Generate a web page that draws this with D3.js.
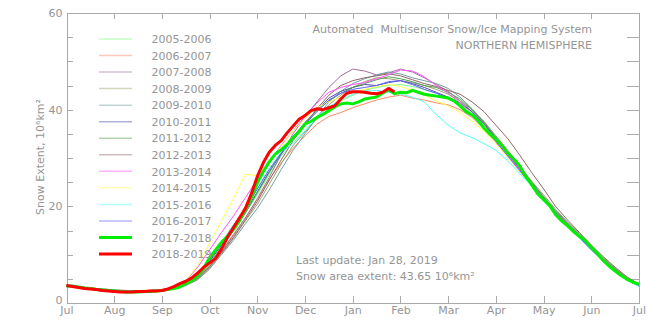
<!DOCTYPE html>
<html>
<head>
<meta charset="utf-8">
<script src="https://cdn.jsdelivr.net/npm/d3@7"></script>
<style>
  body { margin: 0; background: #fff; }
  svg text { font-family: "DejaVu Sans", sans-serif; font-size: 11px; fill: #959595; }
  .axis path, .axis line { stroke: #aaa; shape-rendering: crispEdges; }
</style>
</head>
<body>
<div id="chart"></div>
<script>
// month ticks, July to July
const monthLabels = ["Jul", "Aug", "Sep", "Oct", "Nov", "Dec", "Jan", "Feb", "Mar", "Apr", "May", "Jun", "Jul"];
const yTicks = [0, 5, 10, 15, 20, 25, 30, 35, 40, 45, 50, 55, 60];
const seasons = ["2005-2006", "2006-2007", "2007-2008", "2008-2009", "2009-2010", "2010-2011",
  "2011-2012", "2012-2013", "2013-2014", "2014-2015", "2015-2016", "2016-2017", "2017-2018", "2018-2019"];

// snow extent (10^6 km^2), one value per quarter month from Jul 1
const snow0506 = [3.5,3.2,2.9,2.7,2.5,2.4,2.4,2.5,2.6,3.0,3.8,5.2,7.8,11.4,15.0,18.6,22.4,26.6,30.4,33.2,35.6,38.0,40.2,41.8,43.0,44.0,44.6,45.0,45.2,44.8,44.2,43.4,42.6,41.2,39.4,36.8,33.8,30.6,27.6,24.6,21.6,18.8,16.2,13.8,11.2,8.8,6.8,5.0,3.6];
const snow0607 = [3.7,3.4,3.1,2.9,2.7,2.5,2.4,2.5,2.7,3.2,4.0,5.4,7.6,10.8,14.2,17.6,21.4,25.6,29.0,32.0,34.6,37.0,38.6,39.4,40.4,41.2,42.0,42.6,43.0,42.4,42.0,41.4,41.0,40.0,38.4,36.0,33.2,30.2,27.2,24.2,21.2,18.6,16.4,14.0,11.6,9.2,7.2,5.2,3.8];
const snow0708 = [3.6,3.3,3.0,2.8,2.6,2.5,2.5,2.6,2.7,3.1,3.8,5.0,7.4,10.6,14.0,17.6,21.6,26.0,30.8,35.0,38.6,41.6,44.6,47.0,48.4,48.0,47.2,47.6,48.4,47.8,46.6,45.2,43.8,41.8,39.6,37.0,34.0,31.0,28.0,24.8,21.8,18.8,16.2,13.6,11.0,8.6,6.6,4.8,3.5];
const snow0809 = [3.5,3.2,3.0,2.8,2.6,2.5,2.4,2.4,2.5,2.9,3.6,4.8,7.0,10.2,13.4,17.0,20.4,24.6,28.8,32.6,35.4,38.2,41.0,43.0,44.6,45.8,46.6,46.4,46.0,45.6,45.0,44.2,43.2,41.8,40.0,37.6,34.6,31.6,28.4,25.2,22.4,19.4,16.8,14.4,11.8,9.4,7.2,5.2,3.8];
const snow0910 = [3.6,3.3,3.0,2.8,2.6,2.5,2.5,2.5,2.6,3.0,3.7,4.9,7.2,10.0,13.0,16.4,19.6,23.4,27.6,31.6,35.0,38.4,41.6,43.8,45.4,46.4,47.2,47.8,47.4,46.6,46.0,45.4,44.4,42.6,40.2,37.4,34.4,31.2,28.2,25.0,22.0,19.2,16.6,14.2,11.6,9.2,7.0,5.0,3.7];
const snow1011 = [3.6,3.3,3.0,2.8,2.6,2.4,2.4,2.5,2.6,3.1,4.0,5.6,8.6,12.0,15.6,19.0,23.0,27.2,30.8,34.0,37.2,40.0,42.4,43.8,44.6,45.2,45.0,45.6,46.0,45.4,44.6,43.6,42.6,41.4,39.6,37.2,34.0,30.8,27.8,24.6,21.6,18.8,16.2,13.8,11.4,9.0,6.8,4.9,3.6];
const snow1112 = [3.5,3.2,2.9,2.7,2.5,2.4,2.3,2.4,2.5,2.9,3.8,5.4,8.2,11.6,15.0,18.6,22.8,27.0,31.0,34.4,37.4,39.8,41.8,43.4,44.6,45.4,46.2,46.8,46.4,45.8,45.0,44.6,43.6,42.2,40.0,37.4,34.2,31.2,28.0,25.0,22.0,19.0,16.4,14.0,11.4,9.0,7.0,5.0,3.7];
const snow1213 = [3.7,3.4,3.1,2.9,2.7,2.6,2.5,2.6,2.7,3.1,3.9,5.2,7.6,10.4,13.6,17.2,21.0,25.4,29.6,33.6,37.0,40.2,43.0,45.0,46.0,46.6,47.0,47.4,47.0,46.2,45.4,44.8,44.0,43.2,41.6,39.6,36.8,34.0,30.6,27.0,23.6,20.0,17.2,14.6,12.0,9.6,7.4,5.4,3.9];
const snow1314 = [3.6,3.3,3.0,2.8,2.6,2.5,2.4,2.5,2.7,3.4,4.6,7.4,11.0,14.6,18.0,21.8,25.6,29.2,32.6,35.6,38.6,41.4,43.6,44.6,45.2,45.6,46.4,47.2,48.2,48.0,46.8,45.0,43.4,41.4,39.0,36.4,33.6,30.6,27.6,24.6,21.6,18.8,16.2,13.8,11.2,8.8,6.8,4.9,3.6];
const snow1415 = [3.6,3.3,3.0,2.8,2.6,2.5,2.4,2.5,2.7,3.3,4.6,7.8,12.4,17.0,21.6,26.6,26.4,29.0,32.4,35.6,38.2,40.4,41.6,42.6,43.6,44.2,44.8,45.2,44.8,44.0,43.0,41.8,40.8,39.4,37.6,35.6,33.0,30.2,27.2,24.2,21.2,18.4,15.8,13.4,11.0,8.6,6.6,4.8,3.5];
const snow1516 = [3.7,3.4,3.1,2.9,2.7,2.5,2.5,2.6,2.7,3.2,4.2,6.0,9.0,12.6,16.2,19.6,23.6,27.8,31.2,33.0,35.6,38.6,40.6,42.0,43.2,43.8,44.0,43.6,43.2,42.6,41.6,39.0,36.8,35.2,34.2,33.0,31.6,29.4,26.8,24.2,21.2,18.4,15.8,13.4,11.0,8.6,6.6,4.8,3.4];
const snow1617 = [3.6,3.3,3.0,2.8,2.6,2.5,2.4,2.5,2.6,3.0,3.9,5.6,8.8,12.4,16.0,19.6,23.6,27.6,31.0,34.2,37.0,39.6,42.0,43.4,44.2,44.6,45.0,45.8,46.0,45.2,44.2,43.4,42.4,40.8,38.8,36.4,33.4,30.4,27.4,24.4,21.4,18.6,16.0,13.6,11.0,8.8,6.8,4.9,3.6];

// the last two seasons, one value per eighth of a month
const snow1718 = [3.5,3.5,3.3,3.1,3.0,2.8,2.7,2.6,
  2.5,2.4,2.3,2.3,2.3,2.4,2.4,2.5,
  2.6,2.8,3.0,3.3,4.0,4.6,5.6,7.2,
  9.4,11.0,12.6,13.8,15.2,17.0,19.5,21.8,
  24.8,27.2,29.2,30.8,31.7,32.8,34.2,35.4,
  37.0,37.6,38.4,39.0,39.8,40.6,41.2,41.4,
  41.2,41.6,42.2,42.4,42.6,43.4,44.1,43.3,
  43.6,43.5,44.0,43.6,43.2,43.0,42.8,42.6,
  42.4,41.8,40.8,39.6,38.9,37.8,36.2,35.0,
  33.9,32.6,31.0,29.8,28.4,26.2,24.5,22.6,
  21.4,20.2,18.3,17.0,16.0,14.8,13.8,12.9,
  11.5,10.3,8.8,7.6,6.6,5.7,4.9,4.3,
  3.9];
const snow1819 = [3.6,3.4,3.2,3.0,2.9,2.8,2.6,2.5,
  2.4,2.3,2.3,2.3,2.4,2.4,2.5,2.5,
  2.6,2.9,3.4,4.0,4.5,5.2,6.2,7.4,
  8.3,9.2,11.2,13.6,15.6,17.6,19.6,22.6,
  26.2,29.0,31.2,32.6,33.6,35.2,36.6,38.0,
  38.8,39.8,40.2,40.0,40.4,40.8,42.2,43.4,
  43.7,43.7,43.6,43.4,43.3,43.6,44.4,43.65];

const thinSeries = [snow0506, snow0607, snow0708, snow0809, snow0910, snow1011,
  snow1112, snow1213, snow1314, snow1415, snow1516, snow1617];

const colors = ["#7fff7f", "#ff8866", "#a070a0", "#a0a070", "#70a0a0", "#5050b0",
  "#50a050", "#906868", "#ff55ff", "#ffff50", "#50ffff", "#6060ff", "#00ee00", "#ff0000"];

const W = 658, H = 330;
const plotLeft = 66.5, plotRight = 639, plotTop = 13, plotBottom = 303;

const svg = d3.select("#chart").append("svg")
  .attr("width", W).attr("height", H);

const x = d3.scaleLinear().domain([0, 12]).range([plotLeft, plotRight]);
const y = d3.scaleLinear().domain([0, 60]).range([plotBottom, plotTop]);

// frame with inward ticks on all four sides
svg.append("g").attr("class", "axis")
  .attr("transform", `translate(0,${plotBottom})`)
  .call(d3.axisBottom(x).tickValues(d3.range(13)).tickSize(-7).tickSizeOuter(0)
    .tickPadding(3).tickFormat(i => monthLabels[i]))
  .call(g => g.selectAll("text").attr("fill", null));

svg.append("g").attr("class", "axis")
  .attr("transform", `translate(0,${plotTop})`)
  .call(d3.axisTop(x).tickValues(d3.range(13)).tickSize(-6).tickSizeOuter(0).tickFormat(""));

svg.append("g").attr("class", "axis")
  .attr("transform", `translate(${plotLeft},0)`)
  .call(d3.axisLeft(y).tickValues(yTicks).tickSize(-6).tickSizeOuter(0)
    .tickPadding(4).tickFormat(d => d % 20 === 0 ? d : ""))
  .call(g => g.selectAll("text").attr("fill", null)
    .attr("dy", d => d === 0 ? "0.0em" : "0.32em"));

svg.append("g").attr("class", "axis")
  .attr("transform", `translate(${plotRight},0)`)
  .call(d3.axisRight(y).tickValues(yTicks.slice(1, -1)).tickSize(-12).tickSizeOuter(0).tickFormat(""));

// y axis title
svg.append("text")
  .attr("transform", `translate(44,157) rotate(-90)`)
  .attr("text-anchor", "middle")
  .text("Snow Extent, 10⁶km²");

// season curves
const plot = svg.append("g");

function curve(values, step) {
  return d3.line()
    .x((d, i) => x(i * step))
    .y(d => y(d))(values);
}

thinSeries.forEach((vals, k) => {
  plot.append("path")
    .attr("d", curve(vals, 0.25))
    .attr("fill", "none")
    .attr("stroke", colors[k])
    .attr("stroke-width", 1);
});

plot.append("path")
  .attr("d", curve(snow1718, 0.125))
  .attr("fill", "none").attr("stroke", colors[12])
  .attr("stroke-width", 3).attr("stroke-linejoin", "round");

plot.append("path")
  .attr("d", curve(snow1819, 0.125))
  .attr("fill", "none").attr("stroke", colors[13])
  .attr("stroke-width", 3).attr("stroke-linejoin", "round");

// legend
const legend = svg.append("g");
seasons.forEach((s, k) => {
  const ly = 39 + k * 16.54;
  legend.append("line")
    .attr("x1", 99).attr("x2", 132).attr("y1", ly).attr("y2", ly)
    .attr("stroke", colors[k])
    .attr("stroke-opacity", k < 12 ? 0.45 : 1)
    .attr("stroke-width", k < 12 ? 1.5 : 3);
  legend.append("text")
    .attr("x", 151.5).attr("y", ly + 4.2)
    .text(s);
});

// titles and notes
svg.append("text").attr("x", 592).attr("y", 33).attr("text-anchor", "end")
  .attr("xml:space", "preserve")
  .text("Automated  Multisensor Snow/Ice Mapping System");
svg.append("text").attr("x", 592).attr("y", 49).attr("text-anchor", "end")
  .text("NORTHERN HEMISPHERE");

const last = snow1819[snow1819.length - 1];
svg.append("text").attr("x", 296).attr("y", 264)
  .text("Last update: Jan 28, 2019");
svg.append("text").attr("x", 296).attr("y", 280)
  .text(`Snow area extent: ${last.toFixed(2)} 10⁶km²`);
</script>
</body>
</html>
